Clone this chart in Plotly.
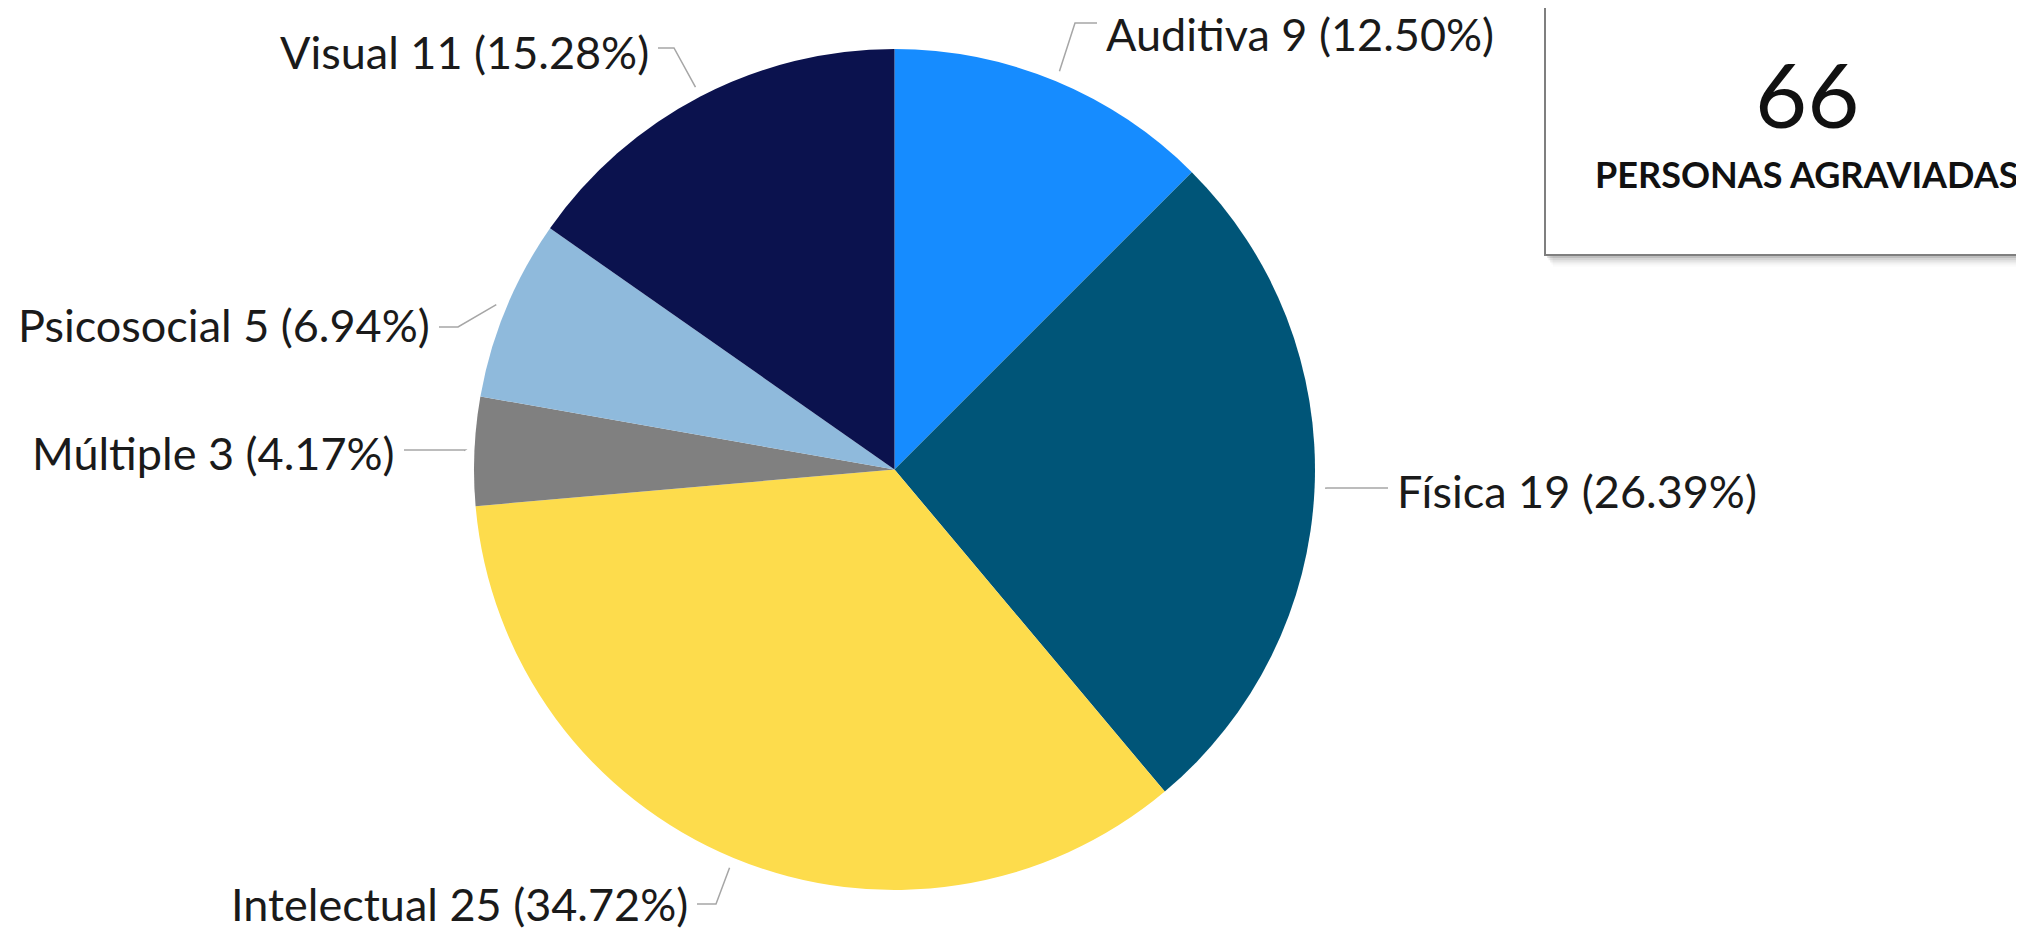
import math
import plotly.graph_objects as go

# ---- data ----
categories = ["Auditiva", "Física", "Intelectual", "Múltiple", "Psicosocial", "Visual"]
values = [9, 19, 25, 3, 5, 11]
colors = ["#168CFF", "#005578", "#FDDC4C", "#808080", "#8FBADC", "#0B124E"]
total_label = "66"
total_caption = "PERSONAS AGRAVIADAS"

W, H = 2024, 933
OFF = 8  # page body margin
FW, FH = W - OFF, H - OFF
FONT = "Lato"

# pie placement (pixels in screenshot)
CX, CY, R = 894.5, 469.5, 420.5

# label leader layout: elbow point (px), end-x of horizontal segment, text y, side
label_layout = {
    "Auditiva":    dict(elbow=(1075, 23), end_x=1097, ty=34, side="right"),
    "Física":      dict(elbow=(1327, 488), end_x=1388, ty=491, side="right"),
    "Intelectual": dict(elbow=(716, 904), end_x=697, ty=904, side="left"),
    "Múltiple":    dict(elbow=(465, 450), end_x=404, ty=453, side="left"),
    "Psicosocial": dict(elbow=(458, 327), end_x=439, ty=325, side="left"),
    "Visual":      dict(elbow=(674, 48), end_x=658, ty=52, side="left"),
}


def px(x):
    return (x - OFF) / FW


def py(y):
    return 1 - (y - OFF) / FH


fig = go.Figure()
fig.add_trace(go.Pie(
    labels=categories,
    values=values,
    sort=False,
    direction="clockwise",
    rotation=0,
    marker=dict(colors=colors, line=dict(width=0)),
    textinfo="none",
    hoverinfo="label+value+percent",
    showlegend=False,
    domain=dict(x=[px(CX - R), px(CX + R)], y=[py(CY + R), py(CY - R)]),
))

total = sum(values)
shapes = []
annotations = []
cum = 0
for cat, v in zip(categories, values):
    mid = (cum + v / 2) / total * 2 * math.pi
    cum += v
    sx = CX + R * 1.025 * math.sin(mid)
    sy = CY - R * 1.025 * math.cos(mid)
    lay = label_layout[cat]
    ex, ey = lay["elbow"]
    endx = lay["end_x"]
    path = f"M {px(sx)},{py(sy)} L {px(ex)},{py(ey)} L {px(endx)},{py(ey)}"
    shapes.append(dict(type="path", xref="paper", yref="paper", path=path,
                       line=dict(color="#A6A6A6", width=1.5)))
    pct = v / total * 100
    txt = f"{cat} {v} ({pct:.2f}%)"
    right = lay["side"] == "right"
    annotations.append(dict(x=px(endx + 7 if right else endx - 7), y=py(lay["ty"]),
                            xref="paper", yref="paper",
                            text=txt, showarrow=False,
                            xanchor="left" if right else "right", yanchor="middle",
                            font=dict(family=FONT, size=45, color="#1A1A1A")))

# info box with shadow
for i, op in enumerate([0.10, 0.07, 0.05, 0.03, 0.02]):
    shapes.append(dict(type="rect", xref="paper", yref="paper",
                       x0=px(1545 + 2 + i * 1.5), x1=px(2040), y0=py(256 + 2 + i * 2.2), y1=py(-10),
                       fillcolor=f"rgba(0,0,0,{op})", line=dict(width=0), layer="above"))
shapes.append(dict(type="rect", xref="paper", yref="paper",
                   x0=px(1545), x1=px(2040), y0=py(255), y1=py(-10),
                   fillcolor="white", line=dict(color="#7F7F7F", width=2), layer="above"))

annotations.append(dict(x=px(1807), y=py(93), xref="paper", yref="paper", text=total_label,
                        showarrow=False, xanchor="center", yanchor="middle",
                        font=dict(family=FONT, size=90, color="#111111")))
annotations.append(dict(x=px(1806), y=py(174), xref="paper", yref="paper",
                        text=f"<b>{total_caption}</b>",
                        showarrow=False, xanchor="center", yanchor="middle",
                        font=dict(family=FONT, size=36, color="#111111")))

fig.update_layout(
    width=FW, height=FH,
    margin=dict(l=0, r=0, t=0, b=0),
    paper_bgcolor="white", plot_bgcolor="white",
    shapes=shapes, annotations=annotations,
)

fig.write_html("out.html")
